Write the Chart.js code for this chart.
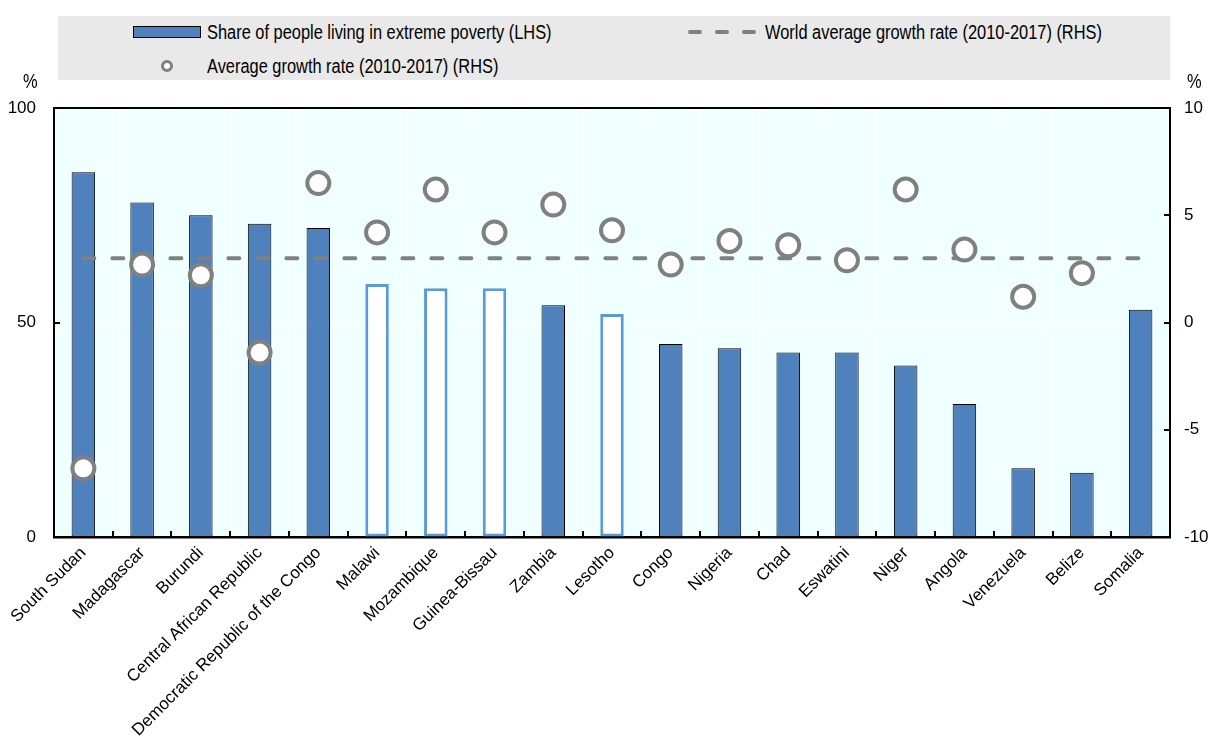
<!DOCTYPE html>
<html lang="en">
<head>
<meta charset="UTF-8">
<title>Extreme poverty and growth</title>
<script src="https://cdn.jsdelivr.net/npm/chart.js"></script>
<style>
  body { margin: 0; background: #ffffff; font-family: 'Liberation Sans', Arial, sans-serif; }
  #wrap { position: relative; width: 1214px; height: 741px; }
  #chart { position: absolute; left: 0; top: 0; }
  .legend { position: absolute; left: 58px; top: 16px; width: 1112px; height: 64px; background: #e9e9e9; font-size: 20px; color: #000; }
  .item { position: absolute; line-height: 20px; white-space: nowrap; transform: scaleX(0.82); transform-origin: 0 50%; }
  .sw-bar { position: absolute; left: 75px; top: 10px; width: 66px; height: 10px; background: #4f81bd; border: 1px solid #000; }
  .sw-dash { position: absolute; top: 14px; width: 14px; height: 4px; background: #808080; border-radius: 2px; }
  .sw-dot { position: absolute; left: 103px; top: 44px; width: 6px; height: 6px; border: 3px solid #808080; border-radius: 50%; background: #fff; }
  .unit { position: absolute; top: 70px; font-size: 20px; transform: scaleX(0.82); transform-origin: 0 50%; }
</style>
</head>
<body>
<div id="wrap">
  <canvas id="chart" width="1214" height="741"></canvas>
  <div class="legend">
    <div class="sw-bar"></div>
    <div class="item" style="left:149px; top:6px">Share of people living in extreme poverty (LHS)</div>
    <div class="sw-dash" style="left:630px"></div>
    <div class="sw-dash" style="left:657px"></div>
    <div class="sw-dash" style="left:684px"></div>
    <div class="item" style="left:707px; top:6px">World average growth rate (2010-2017) (RHS)</div>
    <div class="sw-dot"></div>
    <div class="item" style="left:149px; top:40px">Average growth rate (2010-2017) (RHS)</div>
  </div>
  <div class="unit" style="left:23px">%</div>
  <div class="unit" style="left:1187px">%</div>
</div>
<script>
// countries, ordered as plotted
const categories = ['South Sudan', 'Madagascar', 'Burundi', 'Central African Republic',
  'Democratic Republic of the Congo', 'Malawi', 'Mozambique', 'Guinea-Bissau', 'Zambia',
  'Lesotho', 'Congo', 'Nigeria', 'Chad', 'Eswatini', 'Niger', 'Angola', 'Venezuela',
  'Belize', 'Somalia'];

// share of people living in extreme poverty, % (left axis)
const povertyShare = [85, 78, 75, 73, 72, 59, 58, 58, 54, 52, 45, 44, 43, 43, 40, 31, 16, 15, 53];

// average growth rate 2010-2017, % (right axis); no value for Somalia
const growthRate = [-6.8, 2.7, 2.2, -1.4, 6.5, 4.2, 6.2, 4.2, 5.5, 4.3, 2.7, 3.8, 3.6, 2.9, 6.2, 3.4, 1.2, 2.3, null];

// world average growth rate 2010-2017, % (right axis)
const worldGrowth = [3, 3, 3, 3, 3, 3, 3, 3, 3, 3, 3, 3, 3, 3, 3, 3, 3, 3, 3];

// countries drawn as outlined bars
const outlined = ['Malawi', 'Mozambique', 'Guinea-Bissau', 'Lesotho'];

const leftTicks = [0, 50, 100];
const rightTicks = [-10, -5, 0, 5, 10];

const BLUE = '#4f81bd';
const LIGHT_BLUE = '#5b9bd5';
const GREY = '#808080';

Chart.defaults.font.family = "'Liberation Sans', Arial, sans-serif";
Chart.defaults.font.size = 17;
Chart.defaults.color = '#000';

// azure plot background, top frame line and the small inward ticks
const frame = {
  id: 'frame',
  beforeDraw(chart) {
    const a = chart.chartArea, c = chart.ctx;
    c.save();
    c.fillStyle = '#f0ffff';
    c.fillRect(a.left, a.top, a.right - a.left, a.bottom - a.top);
    c.restore();
  },
  afterDraw(chart) {
    const a = chart.chartArea, c = chart.ctx;
    const x = chart.scales.x, y = chart.scales.y, y2 = chart.scales.y2;
    c.save();
    c.strokeStyle = '#000';
    c.lineWidth = 2;
    c.beginPath();
    c.moveTo(a.left - 1, a.top);
    c.lineTo(a.right + 1, a.top);
    for (let i = 1; i < categories.length; i++) {
      const px = Math.round((x.getPixelForValue(i - 1) + x.getPixelForValue(i)) / 2);
      c.moveTo(px, a.bottom);
      c.lineTo(px, a.bottom - 6);
    }
    leftTicks.forEach(v => {
      const py = Math.round(y.getPixelForValue(v));
      c.moveTo(a.left, py);
      c.lineTo(a.left + 6, py);
    });
    rightTicks.forEach(v => {
      const py = Math.round(y2.getPixelForValue(v));
      c.moveTo(a.right, py);
      c.lineTo(a.right - 6, py);
    });
    c.stroke();
    c.restore();
  }
};

new Chart(document.getElementById('chart'), {
  data: {
    labels: categories,
    datasets: [
      {
        type: 'line',
        label: 'Average growth rate (2010-2017) (RHS)',
        data: growthRate,
        yAxisID: 'y2',
        showLine: false,
        pointRadius: 11,
        pointBorderWidth: 4,
        pointBorderColor: GREY,
        pointBackgroundColor: '#ffffff',
        order: 1
      },
      {
        type: 'line',
        label: 'World average growth rate (2010-2017) (RHS)',
        data: worldGrowth,
        yAxisID: 'y2',
        borderColor: GREY,
        borderWidth: 4,
        borderDash: [11, 18],
        borderCapStyle: 'round',
        pointRadius: 0,
        fill: false,
        order: 2
      },
      {
        type: 'bar',
        label: 'Share of people living in extreme poverty (LHS)',
        data: povertyShare,
        yAxisID: 'y',
        backgroundColor: categories.map(c => outlined.includes(c) ? '#ffffff' : BLUE),
        borderColor: categories.map(c => outlined.includes(c) ? LIGHT_BLUE : '#000000'),
        borderWidth: categories.map(c => outlined.includes(c) ? 3 : 1),
        borderSkipped: false,
        barPercentage: 0.8,
        categoryPercentage: 0.5,
        order: 3
      }
    ]
  },
  options: {
    responsive: false,
    devicePixelRatio: 1,
    animation: false,
    layout: { padding: { top: 108 } },
    plugins: { legend: { display: false }, tooltip: { enabled: false } },
    scales: {
      x: {
        grid: { offset: true, color: '#ffffff', lineWidth: 1, drawTicks: false },
        border: { display: true, color: '#000', width: 2.5 },
        ticks: { autoSkip: false, maxRotation: 45, minRotation: 45, padding: 6 },
        afterFit(s) { s.height = 204; }
      },
      y: {
        position: 'left',
        min: 0, max: 100,
        afterBuildTicks(s) { s.ticks = leftTicks.map(v => ({ value: v })); },
        grid: { color: '#ffffff', lineWidth: 1, drawTicks: false },
        border: { color: '#000', width: 2 },
        ticks: { padding: 18 },
        afterFit(s) { s.width = 54; }
      },
      y2: {
        position: 'right',
        min: -10, max: 10,
        afterBuildTicks(s) { s.ticks = rightTicks.map(v => ({ value: v })); },
        grid: { display: false, drawTicks: false },
        border: { color: '#000', width: 2 },
        ticks: { padding: 14 },
        afterFit(s) { s.width = 44; }
      }
    }
  },
  plugins: [frame]
});
</script>
</body>
</html>
